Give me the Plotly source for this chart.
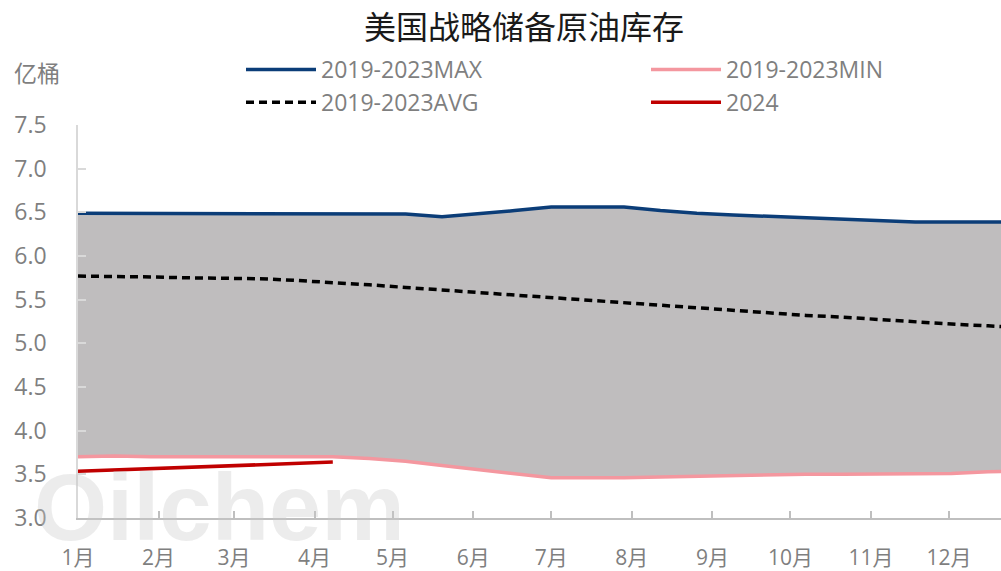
import plotly.graph_objects as go

# ---- data ----
band_dates = ["2024-01-01", "2024-01-15", "2024-01-29", "2024-02-12", "2024-02-26",
              "2024-03-11", "2024-03-25", "2024-04-08", "2024-04-22", "2024-05-06",
              "2024-05-20", "2024-06-03", "2024-06-17", "2024-07-01", "2024-07-15",
              "2024-07-29", "2024-08-12", "2024-08-26", "2024-09-09", "2024-09-23",
              "2024-10-07", "2024-10-21", "2024-11-04", "2024-11-18", "2024-12-02",
              "2024-12-16", "2024-12-30"]
max_vals = [6.49, 6.49, 6.49, 6.49, 6.49, 6.49, 6.49, 6.49, 6.49, 6.48,
            6.45, 6.48, 6.52, 6.56, 6.56, 6.56, 6.52, 6.49, 6.47, 6.455,
            6.44, 6.43, 6.41, 6.39, 6.39, 6.39, 6.39]
min_vals = [3.70, 3.71, 3.70, 3.70, 3.70, 3.70, 3.70, 3.70, 3.68, 3.65,
            3.60, 3.55, 3.50, 3.46, 3.46, 3.46, 3.47, 3.48, 3.49, 3.50,
            3.50, 3.50, 3.50, 3.51, 3.51, 3.53, 3.54]
avg_vals = [5.77, 5.77, 5.76, 5.75, 5.745, 5.74, 5.72, 5.70, 5.67, 5.64,
            5.61, 5.58, 5.55, 5.52, 5.49, 5.47, 5.44, 5.41, 5.38, 5.35,
            5.32, 5.30, 5.27, 5.24, 5.22, 5.20, 5.18]

y2024_dates = ["2024-01-01", "2024-01-15", "2024-01-29", "2024-02-12", "2024-02-26",
               "2024-03-11", "2024-03-25", "2024-04-08"]
y2024_vals = [3.535, 3.55, 3.565, 3.58, 3.595, 3.61, 3.625, 3.64]

month_ticks = ["2024-01-01", "2024-02-01", "2024-03-01", "2024-04-01", "2024-05-01",
               "2024-06-01", "2024-07-01", "2024-08-01", "2024-09-01", "2024-10-01",
               "2024-11-01", "2024-12-01"]
month_labels = ["1月", "2月", "3月", "4月", "5月", "6月", "7月", "8月", "9月", "10月", "11月", "12月"]
y_ticks = [3.0, 3.5, 4.0, 4.5, 5.0, 5.5, 6.0, 6.5, 7.0, 7.5]

FONT = "Open Sans, Noto Sans CJK SC, sans-serif"
GREY = "#7f7f7f"
W, H = 1001, 571

fig = go.Figure()

# shaded band between MIN and MAX
fig.add_trace(go.Scatter(x=band_dates, y=min_vals, mode="lines", line=dict(width=0),
                         showlegend=False, hoverinfo="skip"))
fig.add_trace(go.Scatter(x=band_dates, y=max_vals, mode="lines", line=dict(width=0),
                         fill="tonexty", fillcolor="#bfbdbe", showlegend=False, hoverinfo="skip"))

fig.add_trace(go.Scatter(x=band_dates, y=max_vals, mode="lines", name="2019-2023MAX",
                         line=dict(color="#0b3d78", width=3.5), legend="legend"))
fig.add_trace(go.Scatter(x=band_dates, y=avg_vals, mode="lines", name="2019-2023AVG",
                         line=dict(color="#000000", width=3.5, dash="8px,5px"), legend="legend"))
fig.add_trace(go.Scatter(x=band_dates, y=min_vals, mode="lines", name="2019-2023MIN",
                         line=dict(color="#f4979f", width=3.5), legend="legend2"))
fig.add_trace(go.Scatter(x=y2024_dates, y=y2024_vals, mode="lines", name="2024",
                         line=dict(color="#c00000", width=3.5), legend="legend2"))

legend_common = dict(orientation="v", xref="container", yref="container",
                     xanchor="left", yanchor="top", itemwidth=70, traceorder="normal",
                     font=dict(family=FONT, size=23, color=GREY),
                     bgcolor="rgba(0,0,0,0)", tracegroupgap=0)

fig.update_layout(
    width=W, height=H,
    margin=dict(l=78, r=0, t=125, b=H - 518, autoexpand=False),
    paper_bgcolor="white", plot_bgcolor="white",
    font=dict(family=FONT, color=GREY, size=20),
    title=dict(text="美国战略储备原油库存", x=524 / W, xanchor="center",
               y=1 - 28 / H, yanchor="middle",
               font=dict(family=FONT, size=32, color="#1a1a1a")),
    legend=dict(legend_common, x=241 / W, y=1 - 48 / H),
    legend2=dict(legend_common, x=646 / W, y=1 - 48 / H),
    xaxis=dict(type="date", range=["2024-01-01", "2024-12-21"],
               tickmode="array", tickvals=month_ticks, ticktext=month_labels,
               ticks="inside", ticklen=7, tickcolor="#bfbfbf", tickwidth=1.5,
               showline=True, linecolor="#bfbfbf", linewidth=1.5,
               showgrid=False, zeroline=False, ticklabelstandoff=20,
               tickfont=dict(family=FONT, size=21, color=GREY)),
    yaxis=dict(range=[3.0, 7.5], tickmode="array", tickvals=y_ticks,
               ticktext=[f"{v:.1f}" for v in y_ticks],
               ticks="inside", ticklen=8, tickcolor="#d9d9d9", tickwidth=1.5,
               showline=True, linecolor="#d9d9d9", linewidth=1.5,
               showgrid=False, zeroline=False, ticklabelstandoff=25,
               tickfont=dict(family=FONT, size=23, color=GREY)),
    annotations=[
        dict(text="亿桶", xref="paper", yref="paper", x=-66 / 923, xanchor="left",
             y=1 + (125 - 73) / 393, yanchor="middle", showarrow=False,
             font=dict(family=FONT, size=23, color=GREY)),
        dict(text="<b>Oilchem</b>", xref="paper", yref="paper", x=-46 / 923, xanchor="left",
             y=(518 - 507) / 393, yanchor="middle", showarrow=False,
             font=dict(family="Liberation Sans, Arial, sans-serif", size=94,
                       color="rgba(200,200,200,0.35)")),
    ],
)

fig.write_html("out.html",
               config={"displayModeBar": False},
               post_script="document.body.style.margin='0px';document.body.style.overflow='hidden';")
